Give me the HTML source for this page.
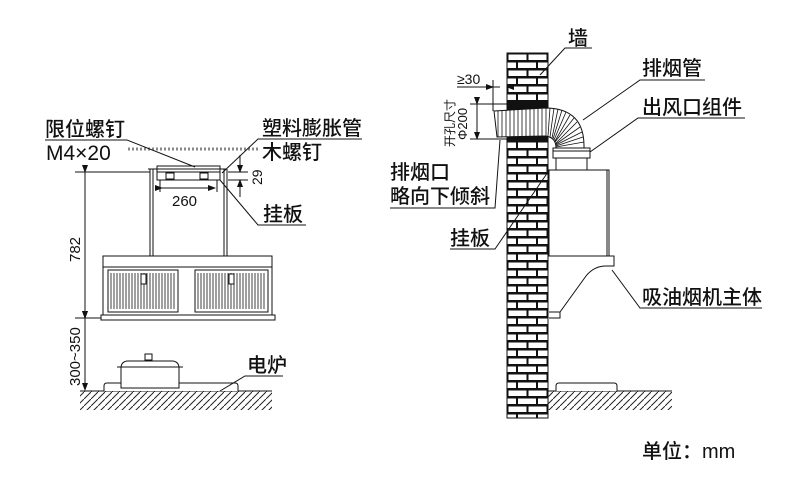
<!DOCTYPE html>
<html><head><meta charset="utf-8"><style>
html,body{margin:0;padding:0;background:#fff}
svg{display:block}
text{font-family:"Liberation Sans","Noto Sans CJK SC",sans-serif;fill:#111}
.l{font-size:20px;font-weight:500}
</style></head><body>
<svg width="790" height="498" viewBox="0 0 790 498" xmlns="http://www.w3.org/2000/svg">
<defs>
<pattern id="brick" x="507" y="53" width="41" height="16" patternUnits="userSpaceOnUse">
<rect width="41" height="16" fill="#111"/>
<rect x="1.5" y="1.5" width="18" height="5.5" fill="#fff"/>
<rect x="21.5" y="1.5" width="18" height="5.5" fill="#fff"/>
<rect x="0" y="9.5" width="9" height="5.5" fill="#fff"/>
<rect x="11" y="9.5" width="18" height="5.5" fill="#fff"/>
<rect x="31" y="9.5" width="10" height="5.5" fill="#fff"/>
</pattern>
<pattern id="hatch" width="7" height="7" patternUnits="userSpaceOnUse">
<path d="M7,0 L0,7" stroke="#222" stroke-width="1"/>
</pattern>
<marker id="ar" markerWidth="8" markerHeight="8" refX="7" refY="4" orient="auto" markerUnits="userSpaceOnUse">
<path d="M0,1 L8,4 L0,7 Z" fill="#111"/></marker>
</defs>
<g stroke="#111" fill="none" stroke-width="1">
<line x1="128" y1="149" x2="258" y2="149" stroke="#888" stroke-width="3" stroke-dasharray="2,2"/>
<rect x="157" y="166" width="63" height="14" fill="#fff"/>
<line x1="157" y1="172" x2="220" y2="172"/>
<rect x="166" y="173" width="8" height="6"/><rect x="200" y="173" width="8" height="6"/>
<line x1="148" y1="169" x2="227" y2="169"/>
<line x1="150" y1="169" x2="150" y2="256"/><line x1="153" y1="169" x2="153" y2="256"/>
<line x1="224" y1="169" x2="224" y2="256"/><line x1="227" y1="169" x2="227" y2="256"/>
<rect x="103" y="256" width="169" height="59" fill="#fff"/>
<line x1="103" y1="267" x2="272" y2="267"/>
<rect x="101" y="315" width="174" height="5" fill="#fff"/>
<rect x="108" y="270" width="70" height="42"/>
<rect x="195" y="270" width="73" height="42"/>
<g stroke-width="0.8">
<path d="M111,273 v36 M114,273 v36 M117,273 v36 M120,273 v36 M123,273 v36 M126,273 v36 M129,273 v36 M132,273 v36 M135,273 v36 M138,273 v36 M141,273 v36 M144,273 v36 M147,273 v36 M150,273 v36 M153,273 v36 M156,273 v36 M159,273 v36 M162,273 v36 M165,273 v36 M168,273 v36 M171,273 v36 M174,273 v36"/>
<path d="M198,273 v36 M201,273 v36 M204,273 v36 M207,273 v36 M210,273 v36 M213,273 v36 M216,273 v36 M219,273 v36 M222,273 v36 M225,273 v36 M228,273 v36 M231,273 v36 M234,273 v36 M237,273 v36 M240,273 v36 M243,273 v36 M246,273 v36 M249,273 v36 M252,273 v36 M255,273 v36 M258,273 v36 M261,273 v36 M264,273 v36"/>
</g>
<rect x="141" y="274" width="5" height="10" fill="#fff"/><rect x="229" y="274" width="5" height="10" fill="#fff"/>
<line x1="75" y1="172" x2="150" y2="172"/>
<line x1="75" y1="318" x2="101" y2="318"/>
<line x1="85" y1="172" x2="85" y2="318" marker-start="url(#ar)" marker-end="url(#ar)"/>
<line x1="85" y1="318" x2="85" y2="390" marker-start="url(#ar)" marker-end="url(#ar)"/>
<line x1="162" y1="188" x2="215" y2="188" marker-start="url(#ar)" marker-end="url(#ar)"/>
<line x1="160" y1="180" x2="160" y2="192"/><line x1="217" y1="180" x2="217" y2="192"/>
<line x1="228" y1="172" x2="248" y2="172"/><line x1="228" y1="180" x2="248" y2="180"/>
<line x1="240" y1="155" x2="240" y2="172" marker-end="url(#ar)"/>
<line x1="240" y1="197" x2="240" y2="180" marker-end="url(#ar)"/>
<rect x="80" y="391" width="192" height="19" fill="url(#hatch)" stroke="none"/>
<line x1="80" y1="391" x2="272" y2="391"/>
<path d="M104,391 v-5 q0,-3 3,-3 h128 q3,0 3,3 v5" fill="#fff"/>
<path d="M121,388 v-20 q0,-6 6,-7 h46 q6,1 6,7 v20 z" fill="#fff"/>
<line x1="117" y1="367" x2="183" y2="367"/>
<rect x="145" y="354" width="7" height="6" fill="#fff"/>
<polyline points="45,140 127,140 195,167"/>
<polyline points="362,139 258,139 222,173"/>
<polyline points="306,225 258,225 220,180"/>
<polyline points="283,376 245,376 220,391"/>
<rect x="507" y="53" width="41" height="365" fill="url(#brick)" stroke="#111"/>
<rect x="507" y="103" width="41" height="7" fill="#111"/>
<rect x="507" y="130" width="41" height="10" fill="#111"/>
<rect x="548" y="391" width="124" height="19" fill="url(#hatch)" stroke="none"/>
<line x1="548" y1="391" x2="672" y2="391"/>
<path d="M556,391 v-5 q0,-3 3,-3 h55 q3,0 3,3 v5" fill="#fff"/>
<path d="M494,111 L545,108 Q585,108 584,148 L556,148 Q556,137 545,136 L497,137 Z" fill="#fff"/>
<g stroke-width="0.8">
<path d="M498,111 v26 M502,111 v26 M506,110 v27 M510,110 v27 M514,110 v27 M518,109 v28 M522,109 v28 M526,109 v28 M530,108 v29 M534,108 v29 M538,108 v29 M542,108 v28 M546,108 v28"/>
<path d="M550,108 L548,136 M554,108 L550,137 M558,109 L552,138 M562,110 L553,139 M566,112 L554,140 M570,115 L555,141 M574,118 L555,142 M577,122 L556,143 M580,127 L556,144 M582,132 L556,145 M583,137 L556,146 M584,142 L556,147"/>
</g>
<rect x="553" y="148" width="37" height="10" fill="#fff"/>
<line x1="553" y1="151" x2="590" y2="151"/>
<rect x="556" y="158" width="31" height="12" fill="#fff"/>
<rect x="549" y="170" width="60" height="86" fill="#fff"/>
<line x1="607" y1="170" x2="607" y2="256"/>
<path d="M549,256 h65 v10 h-8 q-12,0 -20,10 L560,312 h-11" fill="#fff"/>
<path d="M549,312 h11 v6 h-11"/>
<line x1="457" y1="87" x2="500" y2="87"/>
<line x1="493" y1="80" x2="493" y2="111"/>
<line x1="487" y1="87" x2="493" y2="87" marker-end="url(#ar)"/>
<line x1="514" y1="87" x2="507" y2="87" marker-end="url(#ar)"/>
<line x1="470" y1="104" x2="507" y2="104"/><line x1="470" y1="139" x2="507" y2="139"/>
<line x1="477" y1="104" x2="477" y2="139" marker-start="url(#ar)" marker-end="url(#ar)"/>
<polyline points="592,48 565,48 540,75"/>
<polyline points="705,80 640,80 583,120"/>
<polyline points="745,118 638,118 590,152"/>
<polyline points="390,208 495,208 500,140"/>
<polyline points="450,249 495,249 548,172"/>
<polyline points="762,308 640,308 612,270"/>
</g>
<text x="45" y="136" class="l">限位螺钉</text>
<text x="46" y="160" font-size="21">M4×20</text>
<text x="262" y="135" class="l">塑料膨胀管</text>
<text x="262" y="159" class="l">木螺钉</text>
<text x="172" y="206" font-size="15">260</text>
<text x="263" y="221" class="l">挂板</text>
<text font-size="14" transform="translate(262,185) rotate(-90)">29</text>
<text font-size="15" transform="translate(80,262) rotate(-90)">782</text>
<text font-size="15" transform="translate(80,386) rotate(-90)">300~350</text>
<text x="247" y="372" class="l">电炉</text>
<text x="568" y="45" class="l">墙</text>
<text x="457" y="84" font-size="14">≥30</text>
<text font-size="12" transform="translate(454,147) rotate(-90)">开孔尺寸</text>
<text font-size="13" transform="translate(467,140) rotate(-90)">Φ200</text>
<text x="642" y="75" class="l">排烟管</text>
<text x="642" y="114" class="l">出风口组件</text>
<text x="390" y="179" class="l">排烟口</text>
<text x="390" y="203" class="l">略向下倾斜</text>
<text x="450" y="245" class="l">挂板</text>
<text x="642" y="304" class="l">吸油烟机主体</text>
<text x="642" y="458" class="l">单位：mm</text>
</svg>
</body></html>
